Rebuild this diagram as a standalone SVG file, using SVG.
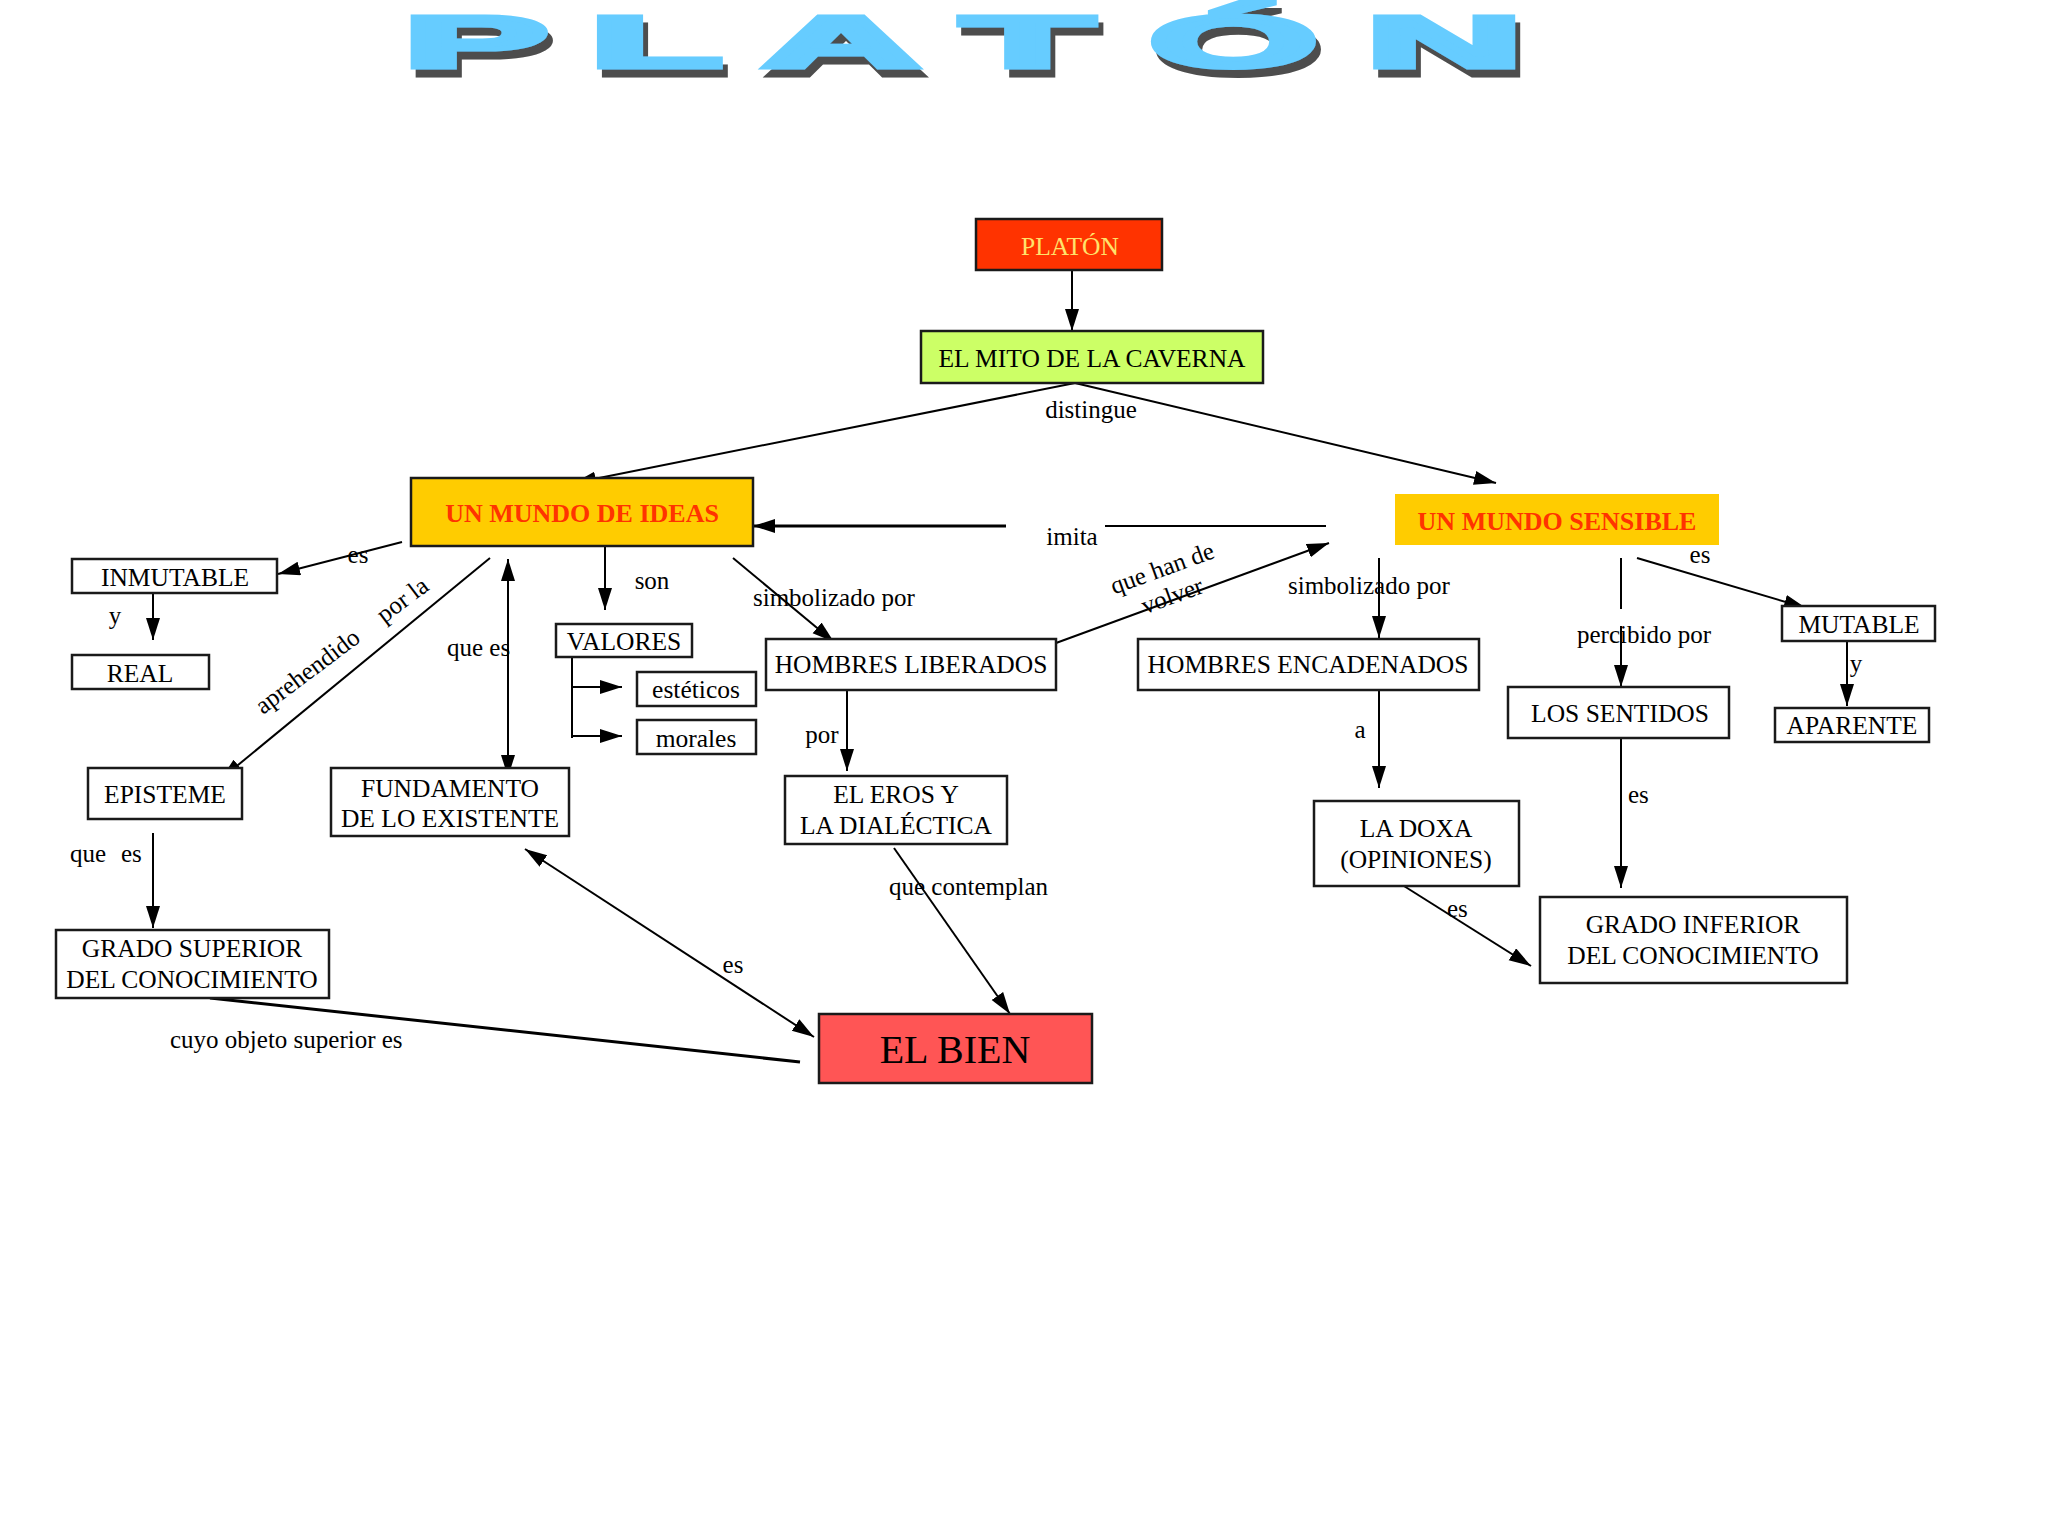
<svg xmlns="http://www.w3.org/2000/svg" width="2048" height="1536" viewBox="0 0 2048 1536">
<style>
.box{stroke:#1a1a1a;stroke-width:2.5}
.t{font-family:"Liberation Serif","Times New Roman",serif;font-size:25.5px;fill:#000;text-anchor:middle}
.lbl{font-family:"Liberation Serif","Times New Roman",serif;font-size:25px;fill:#000}
.mid{text-anchor:middle}
.hd{font-weight:bold;fill:#FF3300;font-size:26px}
.ln{stroke:#000;stroke-width:2;fill:none}
.thick{stroke-width:3}
.title{font-family:"Liberation Sans",Arial,sans-serif;font-weight:bold;font-size:72px;stroke-width:5;stroke-linejoin:miter}
</style>
<defs>
<marker id="ah" markerUnits="userSpaceOnUse" markerWidth="24" markerHeight="16" refX="22" refY="7" orient="auto-start-reverse"><path d="M0,0 L22,7 L0,14 z" fill="#000"/></marker>
<filter id="sh" x="-5%" y="-20%" width="110%" height="150%"><feFlood flood-color="#4D4D4D"/><feComposite in2="SourceAlpha" operator="in"/><feOffset dx="5" dy="8"/><feMerge><feMergeNode/><feMergeNode in="SourceGraphic"/></feMerge></filter>
</defs>
<rect width="2048" height="1536" fill="#fff"/>
<g id="title" filter="url(#sh)">
<text class="title" transform="scale(3,1)" fill="#66CCFF" stroke="#66CCFF" x="134.6 196.7 254.3 320.4 383.2 455.4" y="67">PLATÓN</text>
</g>
<g id="connectors">
<line class="ln" x1="1072" y1="270" x2="1072" y2="331" marker-end="url(#ah)"/>
<line class="ln" x1="1075" y1="383" x2="574" y2="483" marker-end="url(#ah)"/>
<line class="ln" x1="1075" y1="383" x2="1496" y2="483" marker-end="url(#ah)"/>
<line class="ln thick" x1="1006" y1="526" x2="753" y2="526" marker-end="url(#ah)"/>
<line class="ln" x1="1105" y1="526" x2="1326" y2="526"/>
<line class="ln" x1="402" y1="542" x2="278" y2="574" marker-end="url(#ah)"/>
<line class="ln" x1="153" y1="592" x2="153" y2="640" marker-end="url(#ah)"/>
<line class="ln" x1="490" y1="558" x2="221" y2="779" marker-end="url(#ah)"/>
<line class="ln" x1="508" y1="559" x2="508" y2="777" marker-start="url(#ah)" marker-end="url(#ah)"/>
<line class="ln" x1="605" y1="544" x2="605" y2="610" marker-end="url(#ah)"/>
<polyline class="ln" points="572,657 572,738"/>
<line class="ln" x1="572" y1="687" x2="622" y2="687" marker-end="url(#ah)"/>
<line class="ln" x1="572" y1="736" x2="622" y2="736" marker-end="url(#ah)"/>
<line class="ln" x1="733" y1="558" x2="834" y2="642" marker-end="url(#ah)"/>
<line class="ln" x1="847" y1="688" x2="847" y2="771" marker-end="url(#ah)"/>
<line class="ln" x1="1056" y1="643" x2="1329" y2="543" marker-end="url(#ah)"/>
<line class="ln" x1="1379" y1="558" x2="1379" y2="638" marker-end="url(#ah)"/>
<line class="ln" x1="1379" y1="690" x2="1379" y2="788" marker-end="url(#ah)"/>
<line class="ln" x1="1621" y1="558" x2="1621" y2="609"/>
<line class="ln" x1="1621" y1="626" x2="1621" y2="687" marker-end="url(#ah)"/>
<line class="ln" x1="1637" y1="558" x2="1806" y2="608" marker-end="url(#ah)"/>
<line class="ln" x1="1847" y1="640" x2="1847" y2="706" marker-end="url(#ah)"/>
<line class="ln" x1="1621" y1="739" x2="1621" y2="888" marker-end="url(#ah)"/>
<line class="ln" x1="1396" y1="881" x2="1531" y2="966" marker-end="url(#ah)"/>
<line class="ln" x1="153" y1="833" x2="153" y2="928" marker-end="url(#ah)"/>
<line class="ln" x1="525" y1="849" x2="814" y2="1037" marker-start="url(#ah)" marker-end="url(#ah)"/>
<line class="ln" x1="894" y1="848" x2="1010" y2="1014" marker-end="url(#ah)"/>
<line class="ln thick" x1="210" y1="998" x2="800" y2="1062"/>
<text class="lbl mid" x="1091" y="418">distingue</text>
<text class="lbl mid" x="1072" y="545">imita</text>
<text class="lbl mid" x="358" y="563">es</text>
<text class="lbl mid" x="115" y="624">y</text>
<text class="lbl" transform="translate(263,715) rotate(-37)" x="0" y="0">aprehendido <tspan dx="22">por la</tspan></text>
<text class="lbl" x="447" y="656">que es</text>
<text class="lbl mid" x="652" y="589">son</text>
<text class="lbl" x="753" y="606">simbolizado por</text>
<text class="lbl mid" x="822" y="743">por</text>
<g transform="translate(1165,576) rotate(-20)"><text class="lbl mid" x="0" y="0">que han de</text><text class="lbl mid" x="0" y="29">volver</text></g>
<text class="lbl" x="1288" y="594">simbolizado por</text>
<text class="lbl mid" x="1360" y="738">a</text>
<text class="lbl" x="1577" y="643">percibido por</text>
<text class="lbl mid" x="1700" y="563">es</text>
<text class="lbl mid" x="1856" y="672">y</text>
<text class="lbl" x="1628" y="803">es</text>
<text class="lbl" x="1447" y="917">es</text>
<text class="lbl" x="70" y="862">que<tspan x="121">es</tspan></text>
<text class="lbl mid" x="733" y="973">es</text>
<text class="lbl" x="889" y="895">que contemplan</text>
<text class="lbl" x="170" y="1048">cuyo objeto superior es</text>
</g>
<g id="n-platon"><rect class="box" x="976" y="219" width="186" height="51" fill="#FF3300"/><text class="t" x="1070" y="255" style="fill:#FFE36B">PLATÓN</text></g>
<g id="n-mito"><rect class="box" x="921" y="331" width="342" height="52" fill="#CCFF66"/><text class="t" x="1092" y="367">EL MITO DE LA CAVERNA</text></g>
<g id="n-ideas"><rect class="box" x="411" y="478" width="342" height="68" fill="#FFCC00"/><text class="t hd" x="582" y="522">UN MUNDO DE IDEAS</text></g>
<g id="n-sensible"><rect x="1395" y="494" width="324" height="51" fill="#FFCC00"/><text class="t hd" x="1557" y="530">UN MUNDO SENSIBLE</text></g>
<g id="n-inmutable"><rect class="box" x="72" y="559" width="205" height="34" fill="#fff"/><text class="t" x="175" y="586">INMUTABLE</text></g>
<g id="n-real"><rect class="box" x="72" y="655" width="137" height="34" fill="#fff"/><text class="t" x="140" y="682">REAL</text></g>
<g id="n-episteme"><rect class="box" x="88" y="768" width="154" height="51" fill="#fff"/><text class="t" x="165" y="803">EPISTEME</text></g>
<g id="n-fundamento"><rect class="box" x="331" y="768" width="238" height="68" fill="#fff"/><text class="t" x="450" y="797">FUNDAMENTO</text><text class="t" x="450" y="827">DE LO EXISTENTE</text></g>
<g id="n-valores"><rect class="box" x="556" y="624" width="136" height="33" fill="#fff"/><text class="t" x="624" y="650">VALORES</text></g>
<g id="n-esteticos"><rect class="box" x="637" y="672" width="119" height="34" fill="#fff"/><text class="t" x="696" y="698">estéticos</text></g>
<g id="n-morales"><rect class="box" x="637" y="720" width="119" height="34" fill="#fff"/><text class="t" x="696" y="747">morales</text></g>
<g id="n-liberados"><rect class="box" x="766" y="639" width="290" height="51" fill="#fff"/><text class="t" x="911" y="673">HOMBRES LIBERADOS</text></g>
<g id="n-encadenados"><rect class="box" x="1138" y="639" width="341" height="51" fill="#fff"/><text class="t" x="1308" y="673">HOMBRES ENCADENADOS</text></g>
<g id="n-eros"><rect class="box" x="785" y="776" width="222" height="68" fill="#fff"/><text class="t" x="896" y="803">EL EROS Y</text><text class="t" x="896" y="834">LA DIALÉCTICA</text></g>
<g id="n-doxa"><rect class="box" x="1314" y="801" width="205" height="85" fill="#fff"/><text class="t" x="1416" y="837">LA DOXA</text><text class="t" x="1416" y="868">(OPINIONES)</text></g>
<g id="n-inferior"><rect class="box" x="1540" y="897" width="307" height="86" fill="#fff"/><text class="t" x="1693" y="933">GRADO INFERIOR</text><text class="t" x="1693" y="964">DEL CONOCIMIENTO</text></g>
<g id="n-sentidos"><rect class="box" x="1508" y="687" width="221" height="51" fill="#fff"/><text class="t" x="1620" y="722">LOS SENTIDOS</text></g>
<g id="n-mutable"><rect class="box" x="1782" y="606" width="153" height="35" fill="#fff"/><text class="t" x="1859" y="633">MUTABLE</text></g>
<g id="n-aparente"><rect class="box" x="1775" y="708" width="154" height="34" fill="#fff"/><text class="t" x="1852" y="734">APARENTE</text></g>
<g id="n-superior"><rect class="box" x="56" y="930" width="273" height="68" fill="#fff"/><text class="t" x="192" y="957">GRADO SUPERIOR</text><text class="t" x="192" y="988">DEL CONOCIMIENTO</text></g>
<g id="n-bien"><rect class="box" x="819" y="1014" width="273" height="69" fill="#FF5555"/><text class="t" x="955" y="1063" style="font-size:40px">EL BIEN</text></g>
</svg>
